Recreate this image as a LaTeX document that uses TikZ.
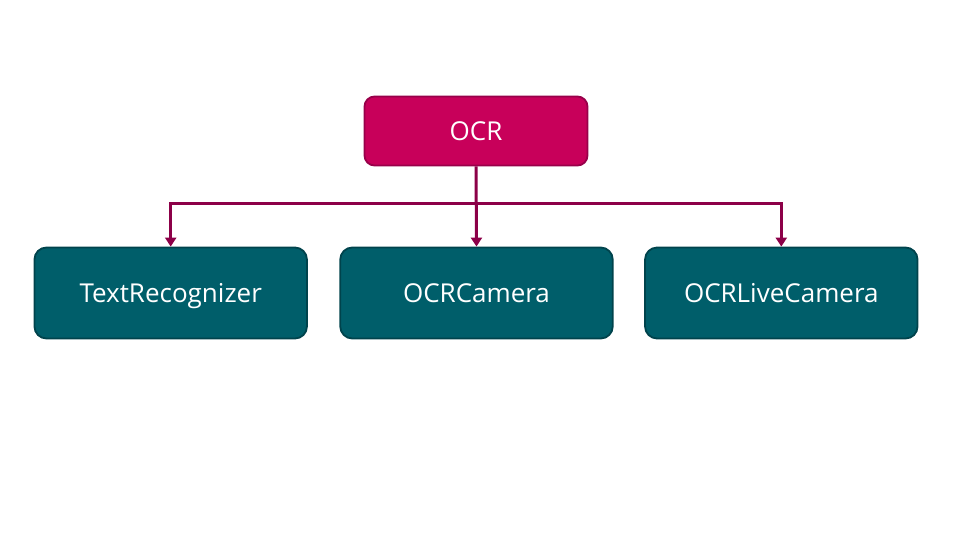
\documentclass[tikz,border=0pt]{standalone}
\usepackage{fontspec}
\setmainfont{Open Sans}
\usetikzlibrary{positioning,arrows.meta}
\definecolor{ocrpink}{HTML}{C8005A}
\definecolor{ocrpinkdark}{HTML}{98004A}
\definecolor{ocrteal}{HTML}{005E6A}
\definecolor{ocrtealdark}{HTML}{00434C}
\definecolor{linkred}{HTML}{8C0048}
\tikzset{
  topbox/.style={draw=ocrpinkdark, line width=1.8pt, fill=ocrpink, rounded corners=10pt,
    minimum width=223pt, minimum height=69pt, text=white, text height=18.5pt, text depth=0pt,
    font=\fontsize{26}{30}\selectfont},
  childbox/.style={draw=ocrtealdark, line width=1.8pt, fill=ocrteal, rounded corners=12pt,
    minimum width=272.5pt, minimum height=91pt, text=white, text height=18.5pt, text depth=0pt,
    font=\fontsize{26}{30}\selectfont},
  link/.style={draw=linkred, line width=3pt, -{Triangle[width=11pt,length=9pt]}}
}
\begin{document}
\begin{tikzpicture}[x=1pt,y=1pt]
  \useasboundingbox (0,0) rectangle (960,-540);
  \node[topbox] (ocr) at (476,-131) {OCR};
  \node[childbox] (cam) at (476.5,-293) {OCRCamera};
  \node[childbox, left=31.5pt of cam] (text) {TextRecognizer};
  \node[childbox, right=30.5pt of cam] (live) {OCRLiveCamera};
  \coordinate[below=37pt of ocr.south] (split);
  % connectors
  \draw[link] (ocr.south) -- (cam.north);
  \draw[link] (split) -| (text.north);
  \draw[link] (split) -| (live.north);
\end{tikzpicture}
\end{document}
